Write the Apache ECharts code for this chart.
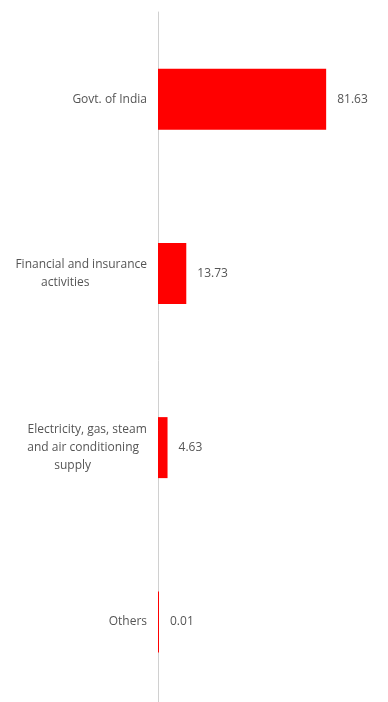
<!DOCTYPE html>
<html>
<head>
<meta charset="utf-8">
<script src="https://cdn.jsdelivr.net/npm/echarts@6/dist/echarts.min.js"></script>
<style>
html,body{margin:0;padding:0;background:#fff;overflow:hidden;}
#chart{width:388px;height:709px;}
</style>
</head>
<body>
<div id="chart"></div>
<script>
var categories = [
  'Govt. of India',
  'Financial and insurance activities',
  'Electricity, gas, steam and air conditioning supply',
  'Others'
];
var values = [81.63, 13.73, 4.63, 0.01];
var xMax = 100;

var labelLines = {
  'Govt. of India': '{l0|Govt. of India}',
  'Financial and insurance activities': '{l0|Financial and insurance}\n{p32|activities}',
  'Electricity, gas, steam and air conditioning supply': '{l0|Electricity, gas, steam}\n{p8|and air conditioning}\n{p29|supply}',
  'Others': '{l0|Others}'
};

var baseTok = {fontFamily: 'Open Sans', fontSize: 12, color: '#555', lineHeight: 18, align: 'center'};
function tok(extra){ var o = {}; for (var k in baseTok) o[k] = baseTok[k]; for (var k2 in extra) o[k2] = extra[k2]; return o; }

var chart = echarts.init(document.getElementById('chart'), null, {renderer: 'canvas'});
chart.setOption({
  animation: false,
  grid: {left: 158, right: 24, top: 12, bottom: 0, containLabel: false, outerBoundsMode: 'none'},
  xAxis: {
    type: 'value', min: 0, max: xMax,
    show: false
  },
  yAxis: {
    type: 'category',
    data: categories,
    inverse: true,
    axisTick: {show: false},
    axisLine: {show: true, lineStyle: {color: '#d0d0d0', width: 1}},
    axisLabel: {
      margin: 11,
      formatter: function (v) { return labelLines[v] || v; },
      rich: {
        l0: tok({}),
        p32: tok({padding: [0, 32, 0, 0]}),
        p8: tok({padding: [0, 8, 0, 0]}),
        p29: tok({padding: [0, 29, 0, 0]})
      }
    },
    splitLine: {show: false}
  },
  series: [{
    type: 'bar',
    data: values,
    barWidth: 61,
    barMinHeight: 1,
    itemStyle: {color: '#ff0000'},
    label: {
      show: true,
      position: 'right',
      distance: 11,
      fontFamily: 'Open Sans',
      fontSize: 12,
      color: '#555',
      formatter: function (p) { return p.value.toFixed(2); }
    }
  }]
});
</script>
</body>
</html>
